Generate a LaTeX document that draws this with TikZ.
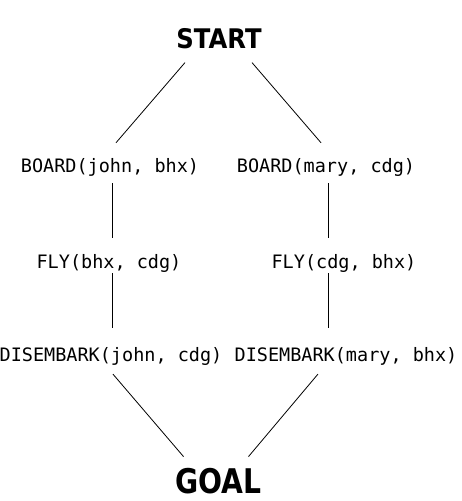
\documentclass[tikz,border=0pt]{standalone}
\usepackage{fontspec}
\usepackage{tikz}
\newfontfamily\actfont{DejaVu Sans Mono}
\newfontfamily\termfont{DejaVu Sans}

\begin{document}
\begin{tikzpicture}[
    x=1pt, y=-1pt,
    act/.style={inner sep=0pt, anchor=base, font=\actfont\fontsize{18.5}{20}\selectfont},
    term/.style={inner sep=0pt, anchor=base, font=\termfont\bfseries},
    link/.style={line width=0.8pt}
]
\useasboundingbox (0,0) rectangle (462,501);

% Start and goal
\node[term] (start) at (219, 48) {\fontsize{27}{30}\selectfont\scalebox{0.9}[1]{START}};
\node[term] (goal) at (218.5, 493) {\fontsize{34}{38}\selectfont\scalebox{0.83}[1]{GOAL}};

% John's plan
\node[act] (bj) at (110, 172) {BOARD(john, bhx)};
\node[act] (fj) at (109, 268) {FLY(bhx, cdg)};
\node[act] (dj) at (111, 361) {DISEMBARK(john, cdg)};

% Mary's plan
\node[act] (bm) at (326, 172) {BOARD(mary, cdg)};
\node[act] (fm) at (344, 268) {FLY(cdg, bhx)};
\node[act] (dm) at (346, 361) {DISEMBARK(mary, bhx)};

% Links
\draw[link] ([xshift=-34pt, yshift=-14pt]start.south) -- ([xshift=6pt, yshift=15pt]bj.north);
\draw[link] ([xshift=33pt, yshift=-14pt]start.south) -- ([xshift=-5pt, yshift=15pt]bm.north);
\draw[link] ([xshift=2pt, yshift=-7pt]bj.south) -- ([xshift=3pt, yshift=16pt]fj.north);
\draw[link] ([xshift=3pt, yshift=-1pt]fj.south) -- ([xshift=1pt, yshift=19pt]dj.north);
\draw[link] ([xshift=2pt, yshift=-7pt]bm.south) -- ([xshift=-16pt, yshift=16pt]fm.north);
\draw[link] ([xshift=-16pt, yshift=-1pt]fm.south) -- ([xshift=-18pt, yshift=19pt]dm.north);
\draw[link] ([xshift=2pt, yshift=-9pt]dj.south) -- ([xshift=-35pt, yshift=11pt]goal.north);
\draw[link] ([xshift=-28pt, yshift=-9pt]dm.south) -- ([xshift=30pt, yshift=11pt]goal.north);

\end{tikzpicture}
\end{document}
